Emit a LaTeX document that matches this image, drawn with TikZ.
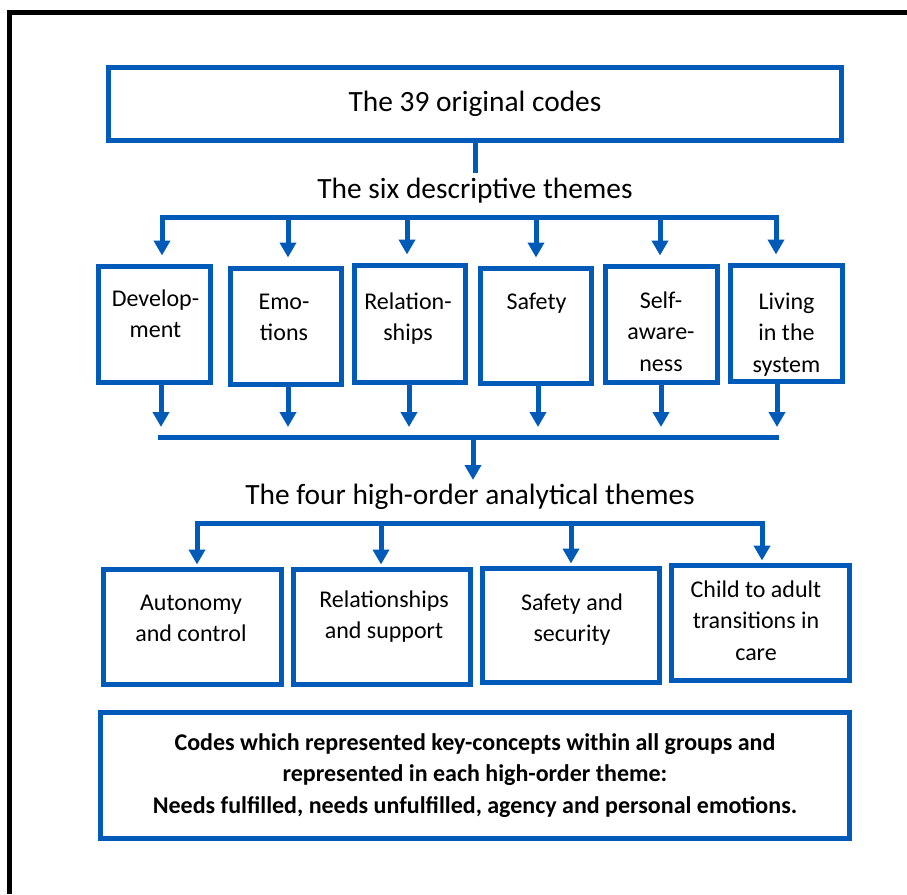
\documentclass[tikz,border=0pt]{standalone}
\usepackage{fontspec}
\setmainfont{Carlito}
\usetikzlibrary{arrows.meta}
\definecolor{boxblue}{RGB}{0,90,184}
\begin{document}
\begin{tikzpicture}[x=1pt,y=-1pt,
  bluebox/.style={draw=boxblue, line width=5pt, rectangle, inner sep=0pt},
  conn/.style={draw=boxblue, line width=5pt},
  tri/.tip={Triangle[width=16pt,length=15pt]},
  arr/.style={conn, -tri},
  titletxt/.style={font=\fontsize{29.4}{34}\selectfont, inner sep=0pt, anchor=base},
  boxtxt/.style={font=\fontsize{24}{31.5}\selectfont, align=center, inner sep=0pt, anchor=base},
  boldtxt/.style={font=\fontsize{24}{31.5}\selectfont\bfseries, align=center},
]
\useasboundingbox (0,0) rectangle (907,894);
\fill[white] (0,0) rectangle (907,894);
% outer frame
\coordinate (fa) at (9.5,894);
\coordinate (fb) at (9.5,12.5);
\coordinate (fc) at (907,12.5);
\draw[line width=5pt] (fa) -- (fb) -- (fc);

% top box
\node[bluebox, minimum width=733pt, minimum height=73pt, font=\fontsize{29.4}{34}\selectfont] (codes) at (475,104) {The 39 original codes};
\coordinate (c0) at (475,173);
\draw[conn] (codes.south) -- (c0);
\node[titletxt] (six) at (475,198) {The six descriptive themes};

% row 1 boxes
\node[bluebox, minimum width=112pt, minimum height=116pt] (dev) at (154.5,324.5) {};
\node[bluebox, minimum width=111pt, minimum height=116pt] (emo) at (286,326.5) {};
\node[bluebox, minimum width=111pt, minimum height=117pt] (rel) at (410,324) {};
\node[bluebox, minimum width=111pt, minimum height=115pt] (saf) at (536,326) {};
\node[bluebox, minimum width=112pt, minimum height=116pt] (slf) at (661.5,324.5) {};
\node[bluebox, minimum width=112pt, minimum height=116pt] (liv) at (786.5,323.5) {};

% (base anchor = baseline of the last line)
\node[boxtxt] (devt) at (155.5,337.5) {Develop-\\ment};
\node[boxtxt] (emot) at (284,340.5) {Emo-\\tions};
\node[boxtxt] (relt) at (408,340.5) {Relation-\\ships};
\node[boxtxt] (saft) at (536.5,309) {Safety};
\node[boxtxt] (slft) at (661,371) {Self-\\aware-\\ness};
\node[boxtxt] (livt) at (786.5,372) {Living\\in the\\system};

% top bar with arrows
\coordinate (t1) at (162,217);
\coordinate (t2) at (288,217);
\coordinate (t3) at (407,217);
\coordinate (t4) at (536,217);
\coordinate (t5) at (660,217);
\coordinate (t6) at (776,217);
\draw[conn, tri-tri, shorten <=8.5pt, shorten >=8.5pt] (t1 |- dev.north) -- (t1) -- (t6) -- (t6 |- liv.north);
\draw[arr, shorten >=8.5pt] (t2) -- (t2 |- emo.north);
\draw[arr, shorten >=8.5pt] (t3) -- (t3 |- rel.north);
\draw[arr, shorten >=8.5pt] (t4) -- (t4 |- saf.north);
\draw[arr, shorten >=8.5pt] (t5) -- (t5 |- slf.north);

% arrows below row 1
\coordinate (d1) at (161,427);
\coordinate (d2) at (288,427);
\coordinate (d3) at (409,427);
\coordinate (d4) at (538,427);
\coordinate (d5) at (661,427);
\coordinate (d6) at (777,427);
\draw[arr] (d1 |- dev.south) -- (d1);
\draw[arr] (d2 |- emo.south) -- (d2);
\draw[arr] (d3 |- rel.south) -- (d3);
\draw[arr] (d4 |- saf.south) -- (d4);
\draw[arr] (d5 |- slf.south) -- (d5);
\draw[arr] (d6 |- liv.south) -- (d6);

% collecting bar
\coordinate (m1) at (158,437);
\coordinate (m2) at (779,437);
\draw[conn] (m1) -- (m2);
\coordinate (m0) at (473,437);
\coordinate (m0t) at (473,480);
\draw[arr] (m0) -- (m0t);

\node[titletxt] (four) at (470,504) {The four high-order analytical themes};

% row 2 boxes
\node[bluebox, minimum width=178pt, minimum height=115pt] (aut) at (192.5,627) {};
\node[bluebox, minimum width=177pt, minimum height=115pt] (rsp) at (382,627) {};
\node[bluebox, minimum width=177pt, minimum height=114pt] (sas) at (571,625.5) {};
\node[bluebox, minimum width=178pt, minimum height=115pt] (chd) at (760.5,623) {};

\node[boxtxt] (autt) at (191,641.5) {Autonomy\\and control};
\node[boxtxt] (rspt) at (384,638.5) {Relationships\\and support};
\node[boxtxt] (sast) at (572,641.5) {Safety and\\security};
\node[boxtxt] (chdt) at (756,660) {Child to adult\\transitions in\\care};

% row 2 bar with arrows
\coordinate (r1) at (197,523);
\coordinate (r2) at (381,523);
\coordinate (r3) at (571,523);
\coordinate (r4) at (762,523);
\draw[conn, tri-tri, shorten <=2.5pt, shorten >=2.5pt] (r1 |- aut.north) -- (r1) -- (r4) -- (r4 |- chd.north);
\draw[arr, shorten >=2.5pt] (r2) -- (r2 |- rsp.north);
\draw[arr, shorten >=2.5pt] (r3) -- (r3 |- sas.north);

% bottom box
\node[bluebox, boldtxt, minimum width=749pt, minimum height=126pt] (codesall) at (475,775.5) {Codes which represented key-concepts within all groups and\\represented in each high-order theme:\\Needs fulfilled, needs unfulfilled, agency and personal emotions.};
\end{tikzpicture}
\end{document}
